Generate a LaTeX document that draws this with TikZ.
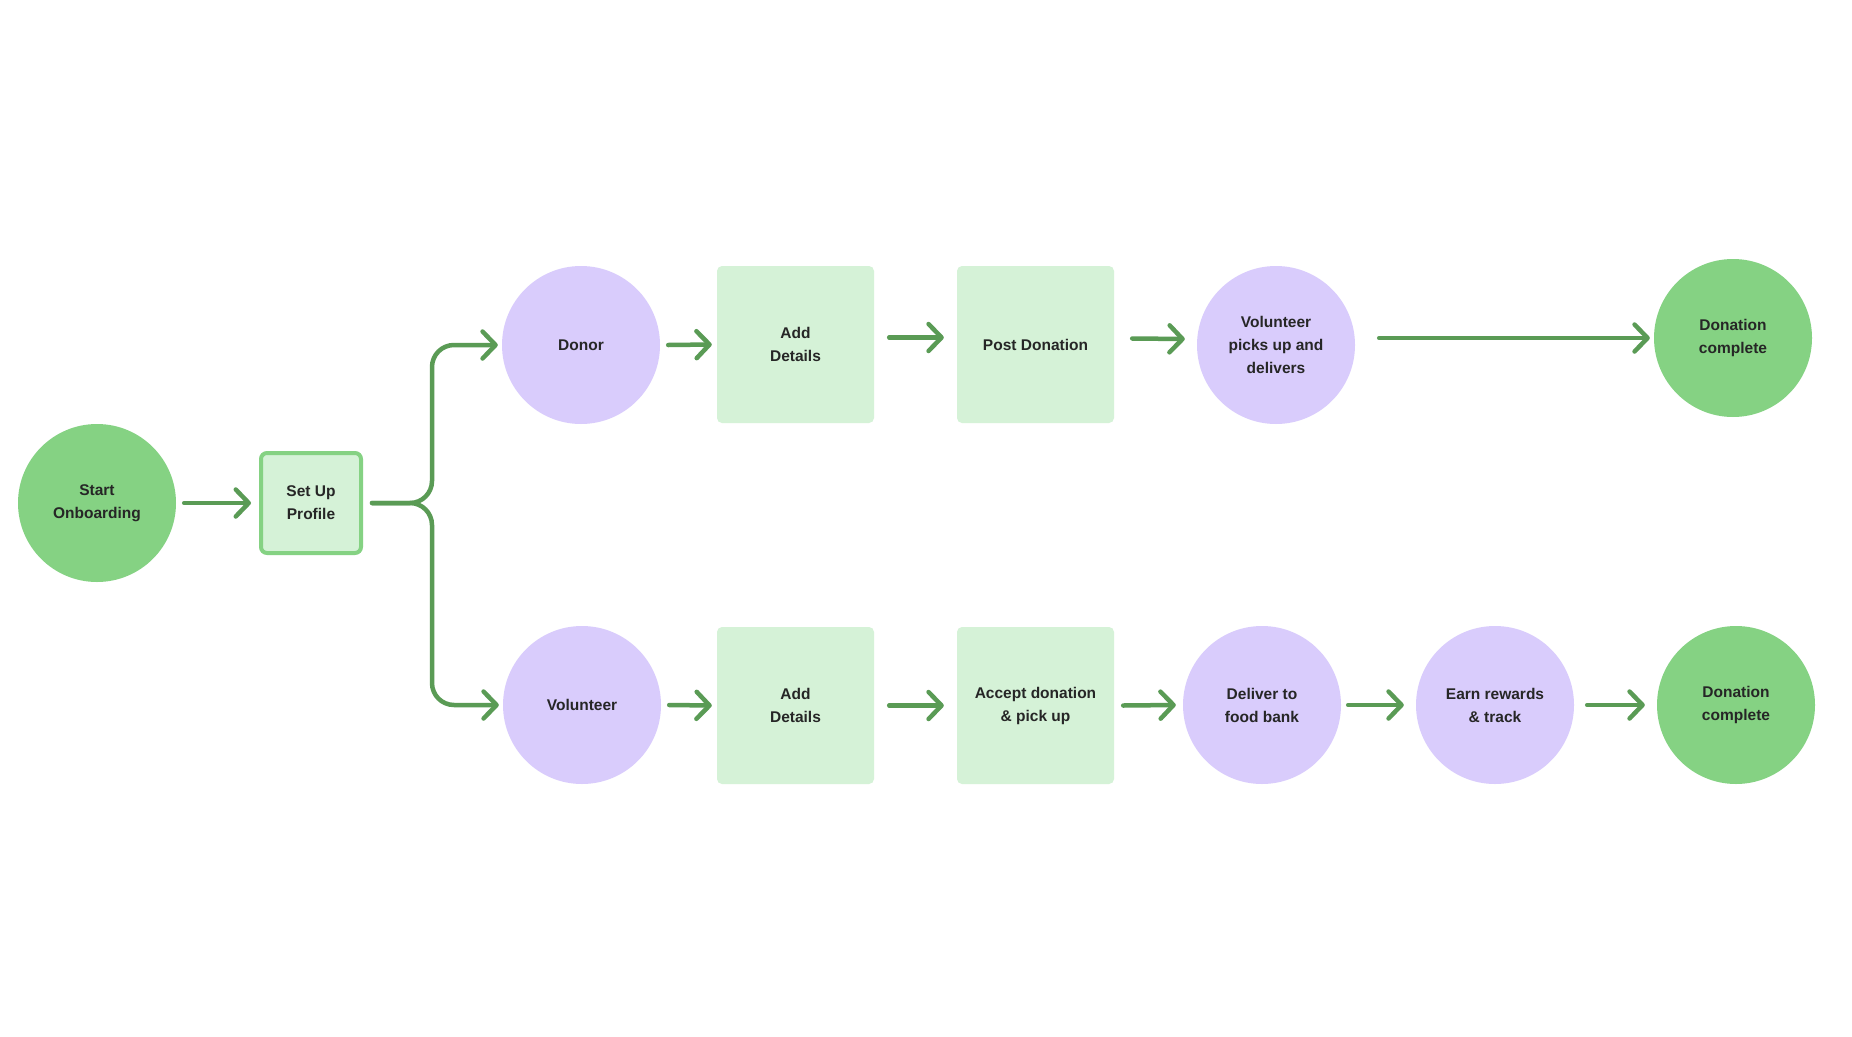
\documentclass[tikz,border=0pt]{standalone}
\usepackage{fontspec}
\setmainfont{Liberation Sans}
\usetikzlibrary{arrows.meta}
\definecolor{cgreen}{HTML}{85D283}
\definecolor{clav}{HTML}{D9CCFC}
\definecolor{cbox}{HTML}{D5F2D7}
\definecolor{carrow}{HTML}{5A9B55}
\definecolor{ctext}{HTML}{262626}
\begin{document}
\begin{tikzpicture}[x=1pt,y=-1pt,
  lbl/.style={font=\fontsize{15.5}{23}\selectfont\bfseries, text=ctext, align=center},
  gcirc/.style={lbl, circle, fill=cgreen, minimum size=158pt, inner sep=0pt},
  lcirc/.style={lbl, circle, fill=clav, minimum size=158pt, inner sep=0pt},
  sbox/.style={lbl, rounded corners=5pt, fill=cbox, minimum size=157pt, inner sep=0pt},
  arr/.style={draw=carrow, line width=4.5pt, line cap=round, -{Straight Barb[length=13pt,width=27pt,round]}},
]
\path[use as bounding box, fill=white] (0,0) rectangle (1852,1036);

% nodes
\node[gcirc] (start) at (97,503) {Start\\Onboarding};
\node[lbl, rounded corners=6pt, fill=cbox, draw=cgreen, line width=4pt, minimum size=100pt, inner sep=0pt] (setup) at (311,503) {Set Up\\Profile};

\node[lcirc] (donor) at (581,345) {Donor};
\node[sbox] (add1) at (795.5,344.5) {Add\\Details};
\node[sbox] (post) at (1035.5,344.5) {Post Donation};
\node[lcirc] (vpick) at (1276,345) {Volunteer\\picks up and\\delivers};
\node[gcirc] (done1) at (1733,338) {Donation\\complete};

\node[lcirc] (vol) at (582,705) {Volunteer};
\node[sbox] (add2) at (795.5,705.5) {Add\\Details};
\node[sbox] (accept) at (1035.5,705.5) {Accept donation\\\&~pick up};
\node[lcirc] (deliver) at (1262,705) {Deliver to\\food bank};
\node[lcirc] (earn) at (1495,705) {Earn rewards\\\&~track};
\node[gcirc] (done2) at (1736,705) {Donation\\complete};

\coordinate (bx) at (432,503);

% connectors
\draw[arr] ([xshift=8pt]start.east) -- ([xshift=-8pt]setup.west);
\draw[arr, rounded corners=22pt] ([xshift=9pt]setup.east) -| (bx |- donor.west) -- ([xshift=-4pt]donor.west);
\draw[arr, rounded corners=22pt] ([xshift=9pt]setup.east) -| (bx |- vol.west) -- ([xshift=-4pt]vol.west);

\draw[arr] ([xshift=8pt]donor.east) -- ([xshift=-5pt]add1.west);
\draw[arr] ([xshift=15pt,yshift=7pt]add1.east) -- ([xshift=-13pt,yshift=7pt]post.west);
\draw[arr] ([xshift=18pt,yshift=6pt]post.east) -- ([xshift=-12pt,yshift=6pt]vpick.west);
\draw[arr] ([xshift=24pt]vpick.east |- done1.west) -- ([xshift=-4pt]done1.west);

\draw[arr] ([xshift=8pt]vol.east) -- ([xshift=-5pt]add2.west);
\draw[arr] ([xshift=15pt]add2.east) -- ([xshift=-13pt]accept.west);
\draw[arr] ([xshift=9pt]accept.east) -- ([xshift=-7pt]deliver.west);
\draw[arr] ([xshift=7pt]deliver.east) -- ([xshift=-12pt]earn.west);
\draw[arr] ([xshift=13pt]earn.east) -- ([xshift=-12pt]done2.west);
\end{tikzpicture}
\end{document}
